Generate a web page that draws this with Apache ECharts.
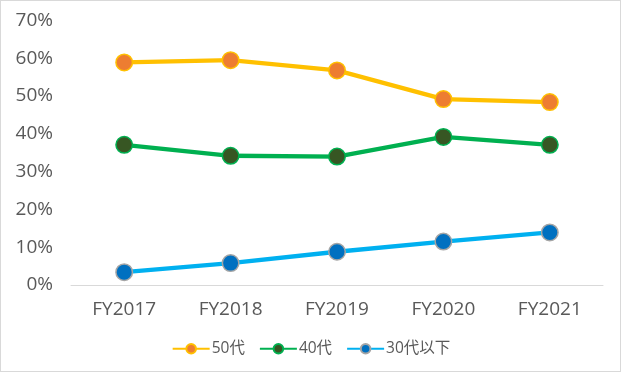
<!DOCTYPE html>
<html><head><meta charset="utf-8">
<script src="https://cdn.jsdelivr.net/npm/echarts@6/dist/echarts.min.js"></script>
<style>html,body{margin:0;padding:0;background:#fff}
#w{position:relative;width:622px;height:373px}
#c{width:622px;height:373px}
#b{position:absolute;left:0;top:0;width:621px;height:372px;box-sizing:border-box;border:1px solid #D9D9D9;pointer-events:none}</style>
</head><body><div id="w"><div id="c"></div><div id="b"></div></div>
<script>
const categories = ['FY2017','FY2018','FY2019','FY2020','FY2021'];
const s50 = [58.9, 59.5, 56.8, 49.2, 48.4];
const s40 = [37.1, 34.2, 34.0, 39.2, 37.1];
const s30 = [3.4, 5.8, 8.8, 11.5, 13.9];
const seriesNames = ['50代','40代','30代以下'];
const font = '"Open Sans","Noto Sans CJK JP",sans-serif';
const chart = echarts.init(document.getElementById('c'));
function mk(name, data, line, fill, border){
  return {name, type:'line', data, symbol:'circle', symbolSize:16.5,
    lineStyle:{color:line, width:4.3}, itemStyle:{color:fill, borderColor:border, borderWidth:1.5},
    emphasis:{disabled:true}, animation:false};
}
chart.setOption({
  animation:false,
  textStyle:{fontFamily:font},
  grid:{left:71, right:19, top:20.5, bottom:88},
  xAxis:{type:'category', data:categories, boundaryGap:true,
    axisLine:{lineStyle:{color:'#D9D9D9', width:1}}, axisTick:{show:false},
    axisLabel:{color:'#595959', fontSize:19, margin:15, fontFamily:font}},
  yAxis:{type:'value', min:0, max:70, interval:10,
    axisLine:{show:false}, axisTick:{show:false}, splitLine:{show:false},
    axisLabel:{color:'#595959', fontSize:19, margin:18, formatter:'{value}%', fontFamily:font}},
  legend:{top:336, left:'center', itemWidth:37, itemHeight:12, itemGap:14,
    textStyle:{color:'#595959', fontSize:15.5, fontFamily:font, padding:[0,0,0,-3]}, data:seriesNames},
  series:[
    mk(seriesNames[0], s50, '#FFC000', '#ED7D31', '#FFC000'),
    mk(seriesNames[1], s40, '#00B050', '#375623', '#00B050'),
    mk(seriesNames[2], s30, '#00B0F0', '#0070C0', '#A5A5A5')
  ]
});
</script></body></html>
